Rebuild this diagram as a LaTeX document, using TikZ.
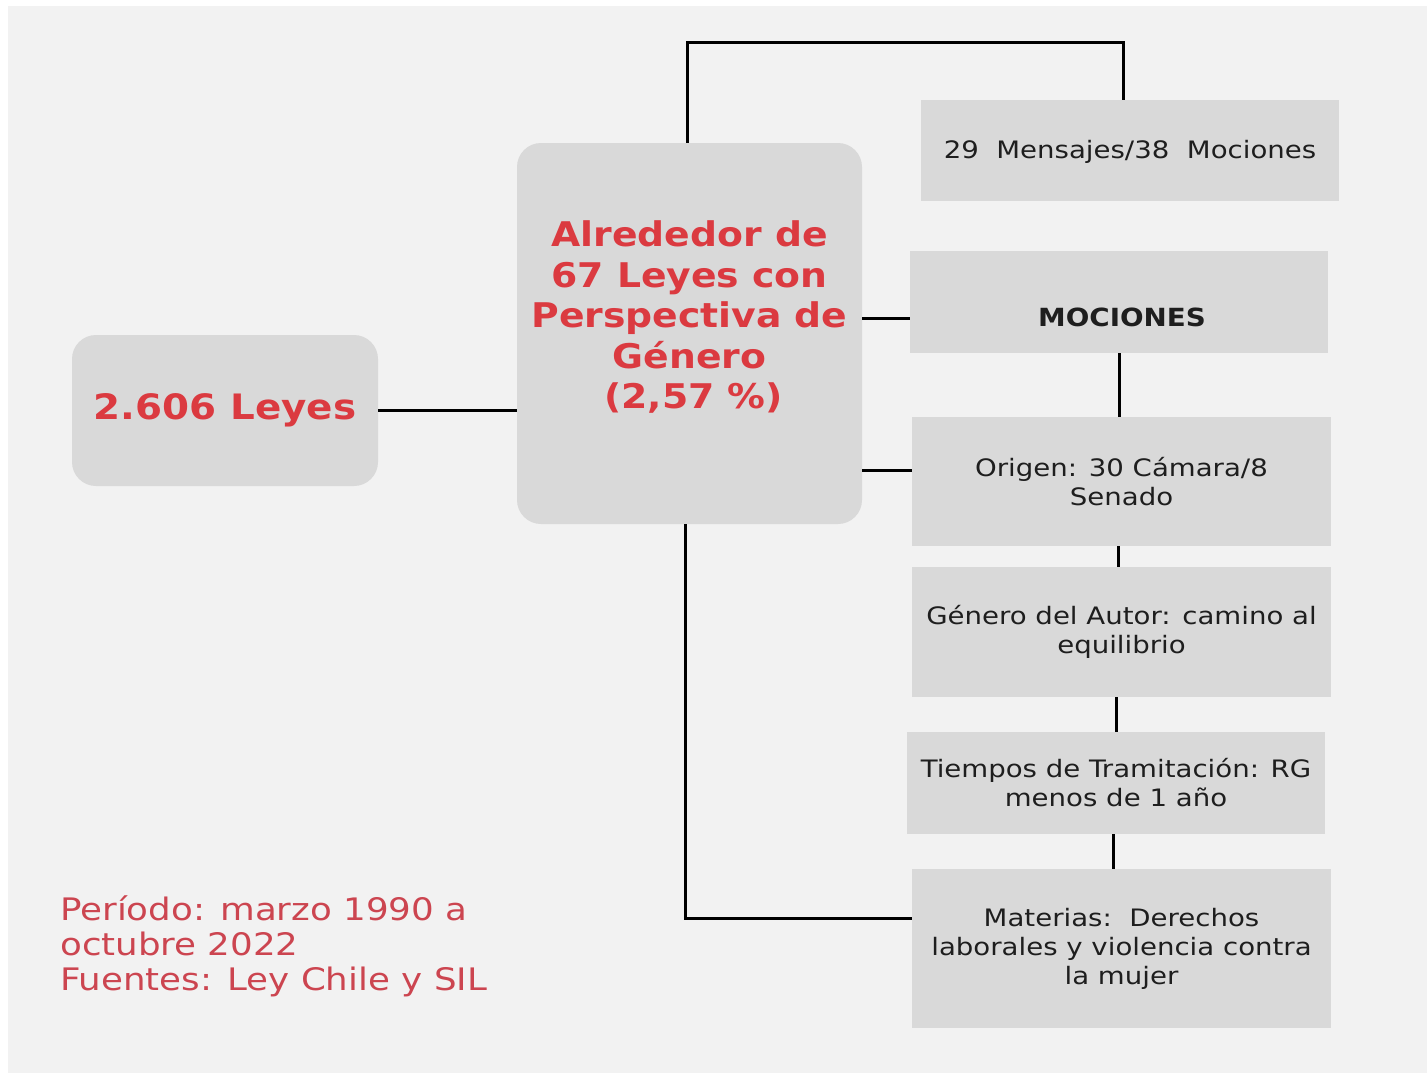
\documentclass[tikz,border=0pt]{standalone}
\usepackage{fontspec}
\setmainfont{DejaVu Sans}
\newfontfamily\widefont[FakeStretch=1.15]{DejaVu Sans}
\newfontfamily\widebold[FakeStretch=1.11]{DejaVu Sans Bold}
\definecolor{panel}{HTML}{F2F2F2}
\definecolor{boxgray}{HTML}{D9D9D9}
\definecolor{hired}{HTML}{DB3A40}
\definecolor{notered}{HTML}{CC4550}
\definecolor{ink}{HTML}{1E1E1E}
\begin{document}
\begin{tikzpicture}[x=1pt,y=-1pt,
  box/.style={fill=boxgray, draw=none, inner sep=0pt, align=center, text=ink},
  roundbox/.style={box, rounded corners=24pt},
  bigred/.style={text=hired, font=\widebold\fontsize{34}{40.5}\selectfont, align=center, inner sep=0pt},
  body/.style={font=\widefont\fontsize{24}{29}\selectfont},
  link/.style={draw=black, line width=3pt}]
\fill[white] (0,0) rectangle (1427,1073);
\fill[panel] (8,6) rectangle (1427,1073);
\useasboundingbox (0,0) rectangle (1427,1073);

% left box
\node[roundbox, minimum width=306pt, minimum height=151pt, bigred, font=\widebold\fontsize{35}{40}\selectfont] (leyes) at (225,410.5) {2.606 Leyes};

% central box
\node[roundbox, minimum width=345pt, minimum height=381pt] (center) at (689.5,333.5) {};
\node[bigred] (centertext) at (689.5,317) {Alrededor de\\67 Leyes con\\Perspectiva de\\Género\\\hspace*{8pt}(2,57 \%)};

% right column
\node[box, minimum width=418pt, minimum height=101pt] (mensajes) at (1130,150.5) {};
\node[inner sep=0pt, text=ink, font=\widefont\fontsize{24}{29}\selectfont] (mensajestext) at (1130,152) {29\ \ Mensajes/38\ \ Mociones};
\node[box, minimum width=418pt, minimum height=102pt] (mociones) at (1119,302) {};
\node[inner sep=0pt, text=ink, font=\widebold\fontsize{25}{30}\selectfont] (mocionestext) at (1122,317) {MOCIONES};
\node[box, body, minimum width=419pt, minimum height=129pt] (origen) at (1121.5,481.5) {Origen: 30 Cámara/8\\Senado};
\node[box, body, minimum width=419pt, minimum height=130pt] (genero) at (1121.5,632) {Género del Autor: camino al\\equilibrio};
\node[box, body, minimum width=418pt, minimum height=102pt] (tiempos) at (1116,783) {Tiempos de Tramitación: RG\\menos de 1 año};
\node[box, body, minimum width=419pt, minimum height=159pt] (materias) at (1121.5,948.5) {Materias:\ \ Derechos\\laborales y violencia contra\\la mujer};

% footnote
\node[anchor=north west, inner sep=0pt, align=left, text=notered, font=\widefont\fontsize{31}{35}\selectfont] (nota) at (60,895) {Período: marzo 1990 a\\octubre 2022\\Fuentes: Ley Chile y SIL};

% connectors
\draw[link] (leyes.east) -- (leyes.east -| center.west);
\coordinate (topleft) at (687,43);
\coordinate (topright) at (1123,43);
\draw[link] (center.north -| topleft) -- (topleft) -- (topright) -- (topright |- mensajes.north);
\coordinate (mocionesrow) at (862,318);
\draw[link] (mocionesrow) -- (mocionesrow -| mociones.west);
\coordinate (origenrow) at (862,470);
\draw[link] (origenrow) -- (origenrow -| origen.west);
\draw[link] (mociones.south) -- (mociones.south |- origen.north);
\draw[link] ([xshift=-3pt]origen.south) -- ([xshift=-3pt]origen.south |- genero.north);
\draw[link] ([xshift=-5pt]genero.south) -- ([xshift=-5pt]genero.south |- tiempos.north);
\draw[link] ([xshift=-3pt]tiempos.south) -- ([xshift=-3pt]tiempos.south |- materias.north);
\coordinate (bottomleft) at (685,918);
\draw[link] (center.south -| bottomleft) -- (bottomleft) -- (bottomleft -| materias.west);
\end{tikzpicture}
\end{document}
